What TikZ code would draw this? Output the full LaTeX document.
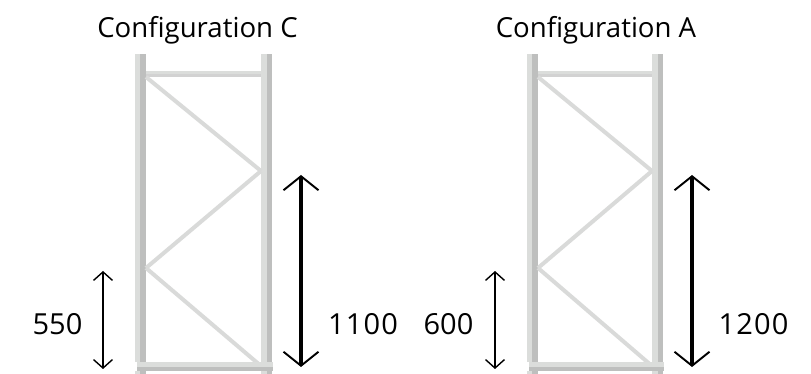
\documentclass[tikz,border=0pt]{standalone}
\usepackage{fontspec}
\setmainfont{Open Sans}
\usetikzlibrary{arrows.meta}
\definecolor{postlight}{rgb}{0.86,0.865,0.86}
\definecolor{postdark}{rgb}{0.745,0.75,0.745}
\definecolor{brace}{rgb}{0.85,0.855,0.85}
\tikzset{
  title/.style={inner sep=0pt,anchor=base,font=\fontsize{15.7}{18}\selectfont},
  dimsmall/.style={inner sep=0pt,font=\fontsize{16.5}{18}\selectfont},
  dimbig/.style={inner sep=0pt,font=\fontsize{16.5}{18}\selectfont\addfontfeature{LetterSpace=4}},
  brace/.style={line width=0.08cm,color=brace},
  smalldim/.style={{Straight Barb[length=0.17cm,width=0.38cm,line width=0.8pt]}-{Straight Barb[length=0.17cm,width=0.38cm,line width=0.8pt]},line width=1.1pt},
  bigdim/.style={{Straight Barb[length=0.28cm,width=0.70cm,line width=1.1pt]}-{Straight Barb[length=0.28cm,width=0.70cm,line width=1.1pt]},line width=2.3pt},
}
\begin{document}
\begin{tikzpicture}[line cap=butt,line join=round,x=1.0cm,y=1.0cm]
    \useasboundingbox (0,0) rectangle (16.22,7.48);

    % left frame
    \fill[postlight] (2.70,0) rectangle (2.80,6.40);
    \fill[postdark] (2.80,0) rectangle (2.92,6.40);
    \fill[postlight] (5.22,0) rectangle (5.34,6.40);
    \fill[postdark] (5.34,0) rectangle (5.43,6.40);
    \fill[postlight] (2.92,6.00) rectangle (5.22,6.06);
    \fill[postdark!70!white] (2.92,5.94) rectangle (5.22,6.00);
    \draw[brace] (2.92,5.94)-- (5.22,4.06);
    \draw[brace] (5.22,4.06)-- (2.92,2.12);
    \draw[brace] (2.92,2.12)-- (5.22,0.16);
    \fill[white] (2.70,0.06) rectangle (5.46,0.24);
    \fill[postlight] (2.74,0.14) rectangle (5.46,0.24);
    \fill[postdark] (2.74,0.06) rectangle (5.46,0.14);

    % right frame
    \fill[postlight] (10.54,0) rectangle (10.64,6.40);
    \fill[postdark] (10.64,0) rectangle (10.76,6.40);
    \fill[postlight] (13.04,0) rectangle (13.16,6.40);
    \fill[postdark] (13.16,0) rectangle (13.25,6.40);
    \fill[postlight] (10.76,6.00) rectangle (13.04,6.06);
    \fill[postdark!70!white] (10.76,5.94) rectangle (13.04,6.00);
    \draw[brace] (10.76,5.94)-- (13.04,4.06);
    \draw[brace] (13.04,4.06)-- (10.76,2.12);
    \draw[brace] (10.76,2.12)-- (13.04,0.16);
    \fill[white] (10.54,0.06) rectangle (13.28,0.24);
    \fill[postlight] (10.58,0.14) rectangle (13.28,0.24);
    \fill[postdark] (10.58,0.06) rectangle (13.28,0.14);

    \coordinate (c_small_top) at (2.06,2.06);
    \coordinate (c_small_bot) at (2.06,0.10);
    \coordinate (c_big_top) at (6.02,3.98);
    \coordinate (c_big_bot) at (6.02,0.14);
    \coordinate (a_small_top) at (9.90,2.06);
    \coordinate (a_small_bot) at (9.90,0.10);
    \coordinate (a_big_top) at (13.84,3.98);
    \coordinate (a_big_bot) at (13.84,0.14);

    \draw[smalldim] (c_small_top)-- (c_small_bot);
    \draw[bigdim] (c_big_top)-- (c_big_bot);
    \draw[smalldim] (a_small_top)-- (a_small_bot);
    \draw[bigdim] (a_big_top)-- (a_big_bot);

    \node[title] (title_c) at (3.95,6.72) {Configuration C};
    \node[title] (title_a) at (11.92,6.72) {Configuration A};
    \node[dimsmall] (small_c) at (1.15,1.00) {550};
    \node[dimbig] (big_c) at (7.26,1.00) {1100};
    \node[dimsmall] (small_a) at (8.97,1.00) {600};
    \node[dimbig] (big_a) at (15.07,1.00) {1200};
\end{tikzpicture}
\end{document}
